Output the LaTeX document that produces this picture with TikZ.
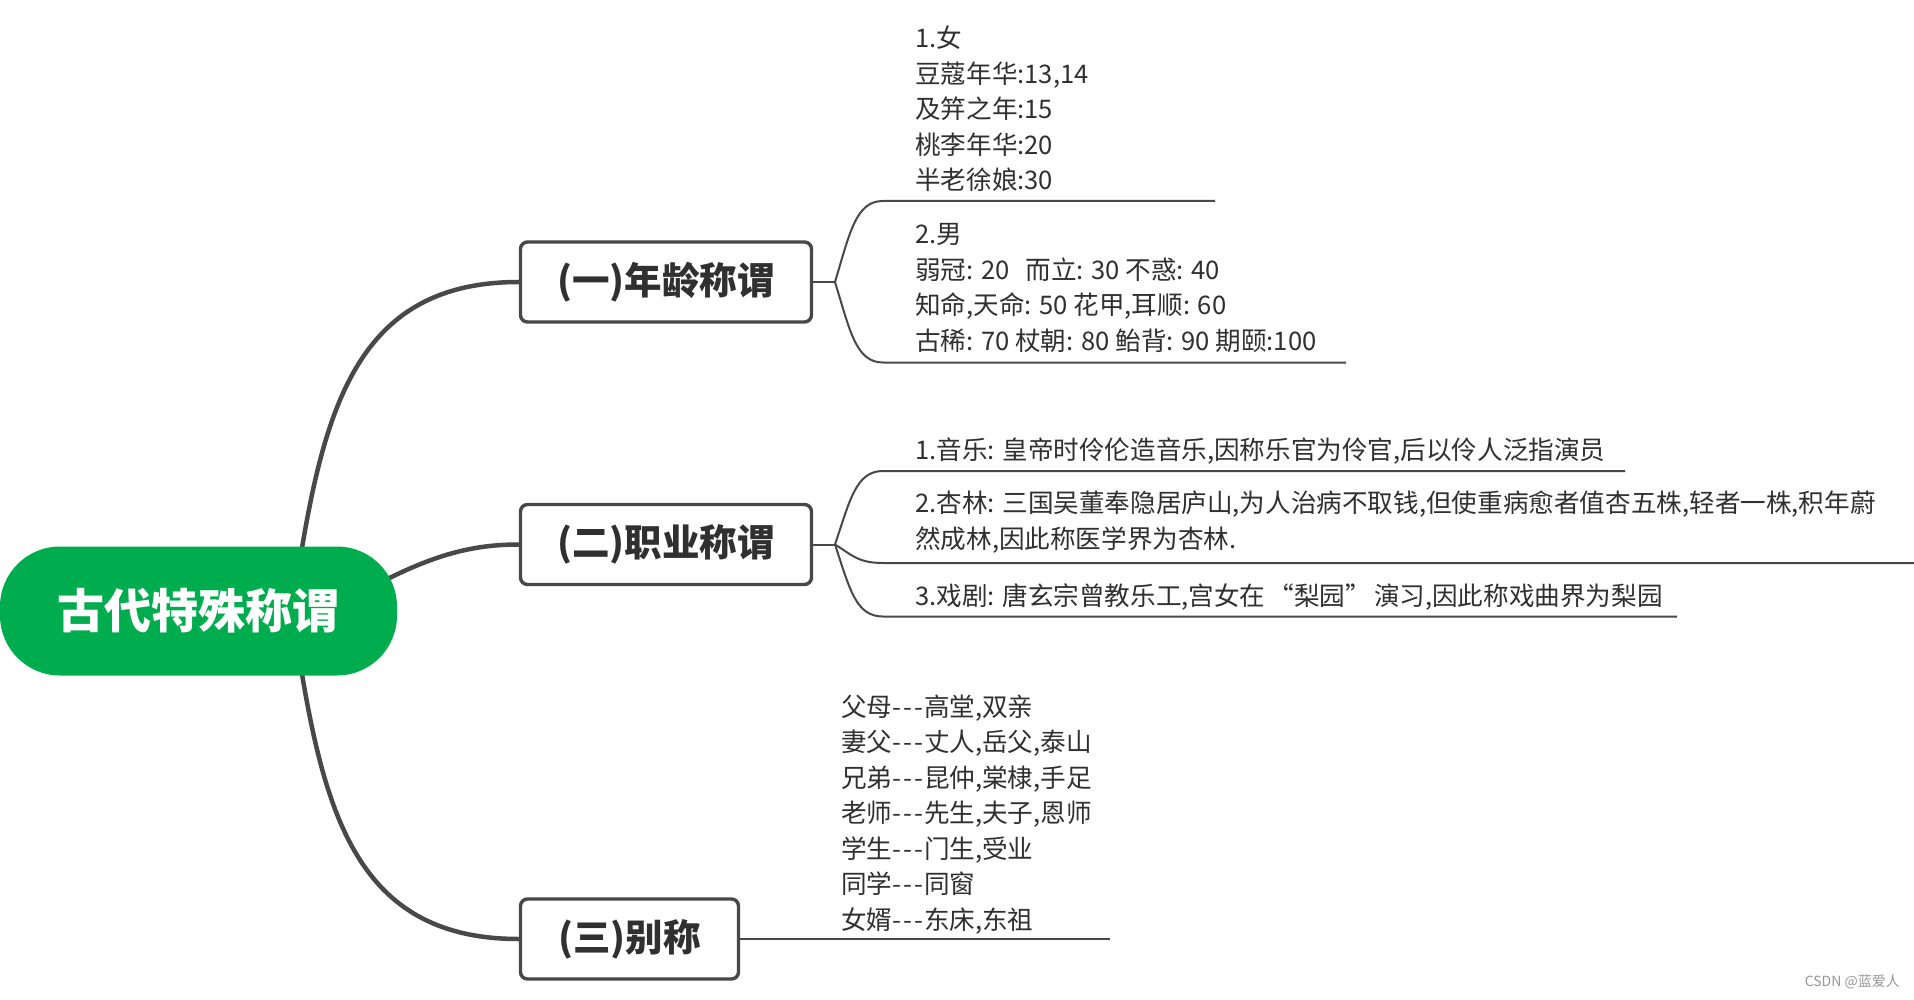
\documentclass[tikz,border=0pt]{standalone}
\usepackage{fontspec}
\setmainfont{Noto Sans CJK SC}
\usetikzlibrary{backgrounds}
\definecolor{rootgreen}{RGB}{0,173,78}
\definecolor{linegray}{RGB}{72,72,72}
\definecolor{textgray}{RGB}{48,48,48}
\definecolor{markgray}{RGB}{150,150,150}
\newcommand{\tdash}{-\kern2pt-\kern2pt-\kern1pt}
\begin{document}
\begin{tikzpicture}[x=1pt,y=-1pt,
  rootnode/.style={fill=rootgreen, rounded corners=60pt, minimum width=397pt, minimum height=129pt, inner sep=0pt, text=white, font=\fontsize{47}{50}\selectfont\bfseries},
  topic/.style={draw=linegray, line width=3.4pt, rounded corners=7pt, fill=white, minimum height=80pt, inner sep=0pt, text=textgray, font=\fontsize{37.5}{42}\selectfont\bfseries},
  leaf/.style={anchor=base west, inner sep=0pt, text=textgray, font=\fontsize{25.6}{35.5}\selectfont},
  mainlink/.style={draw=linegray, line width=4.5pt},
  sublink/.style={draw=linegray, line width=2pt},
]
\useasboundingbox (0,0) rectangle (1914,1000);

% nodes
\node[rootnode] (root) at (198.5,611) {古代特殊称谓};
\node[topic, minimum width=291pt] (t1) at (666,282) {(一)年龄称谓};
\node[topic, minimum width=291pt] (t2) at (666,544.5) {(二)职业称谓};
\node[topic, minimum width=218pt] (t3) at (629.5,939) {(三)别称};

\node[leaf] (f1) at (915,190) {\begin{tabular}[b]{@{}l@{}}1.女\\豆蔻年华:13,14\\及笄之年:15\\桃李年华:20\\半老徐娘:30\end{tabular}};
\node[leaf] (f2) at (915,350) {\begin{tabular}[b]{@{}l@{}}2.男\\弱冠: 20\hspace{16pt}而立: 30 不惑: 40\\知命,天命: 50 花甲,耳顺: 60\\古稀: 70 杖朝: 80 鲐背: 90 期颐:100\end{tabular}};
\node[leaf] (p1) at (915,459) {1.音乐: 皇帝时伶伦造音乐,因称乐官为伶官,后以伶人泛指演员};
\node[leaf] (p2) at (915,548) {\begin{tabular}[b]{@{}l@{}}2.杏林: 三国吴董奉隐居庐山,为人治病不取钱,但使重病愈者值杏五株,轻者一株,积年蔚\\然成林,因此称医学界为杏林.\end{tabular}};
\node[leaf] (p3) at (915,605) {3.戏剧: 唐玄宗曾教乐工,宫女在\kern3pt“梨园”\kern3pt演习,因此称戏曲界为梨园};
\node[leaf] (b1) at (841,929) {\begin{tabular}[b]{@{}l@{}}父母\tdash 高堂,双亲\\妻父\tdash 丈人,岳父,泰山\\兄弟\tdash 昆仲,棠棣,手足\\老师\tdash 先生,夫子,恩师\\学生\tdash 门生,受业\\同学\tdash 同窗\\女婿\tdash 东床,东祖\end{tabular}};

\node[anchor=east, inner sep=0pt, text=markgray, font=\fontsize{14}{16}\selectfont] (wm) at (1900,982) {CSDN @蓝爱人};

% coordinates
\coordinate (r1) at (300,560);
\coordinate (r2) at (370,588);
\coordinate (r3) at (300,662);
\coordinate (j1) at (835,282);
\coordinate (j2) at (835,544.5);
\coordinate (u1a) at (883,201);   \coordinate (u1b) at (1215,201);
\coordinate (u2a) at (883,362.5); \coordinate (u2b) at (1346,362.5);
\coordinate (v1a) at (883,471);   \coordinate (v1b) at (1625,471);
\coordinate (v2a) at (883,563);   \coordinate (v2b) at (1914,563);
\coordinate (v3a) at (883,616.5); \coordinate (v3b) at (1677,616.5);
\coordinate (w1b) at (1110,939);

\begin{scope}[on background layer]
\fill[white] (0,0) rectangle (1914,1000);
\draw[mainlink] (r1) .. controls (326,400) and (362,282) .. (t1.west);
\draw[mainlink] (r2) .. controls (430,556) and (470,544.5) .. (t2.west);
\draw[mainlink] (r3) .. controls (326,822) and (362,939) .. (t3.west);

\draw[sublink] (t1.east) -- (j1);
\draw[sublink] (j1) .. controls (850,232) and (856,201) .. (u1a) -- (u1b);
\draw[sublink] (j1) .. controls (850,331) and (856,362.5) .. (u2a) -- (u2b);

\draw[sublink] (t2.east) -- (j2);
\draw[sublink] (j2) .. controls (850,500) and (856,471) .. (v1a) -- (v1b);
\draw[sublink] (j2) .. controls (852,555) and (858,563) .. (v2a) -- (v2b);
\draw[sublink] (j2) .. controls (850,590) and (856,616.5) .. (v3a) -- (v3b);

\draw[sublink] (t3.east) -- (w1b);
\end{scope}
\end{tikzpicture}
\end{document}
